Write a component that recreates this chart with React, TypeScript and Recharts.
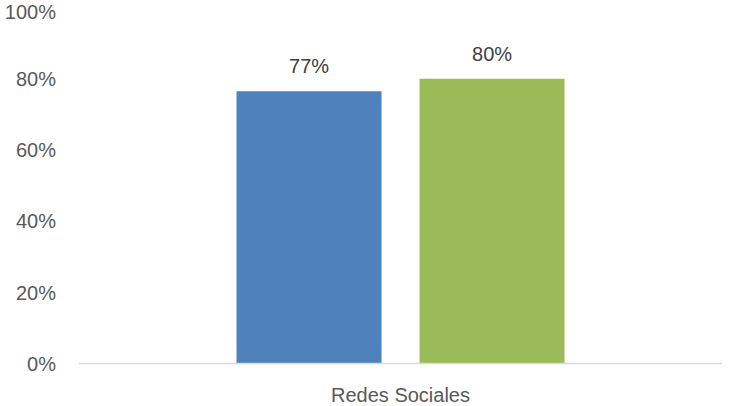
import React from "react";
import { BarChart, Bar, XAxis, YAxis, LabelList } from "recharts";

const categories = ["Redes Sociales"];
const seriesA = [76.6];
const seriesB = [80.1];
const labelsA = ["77%"];
const labelsB = ["80%"];
const yTicks = [0, 20, 40, 60, 80, 100];

const data = categories.map((c, i) => ({
  name: c,
  a: seriesA[i],
  b: seriesB[i],
  la: labelsA[i],
  lb: labelsB[i],
}));

const font = "'Liberation Sans', Arial, sans-serif";

export default function App() {
  return (
    <div style={{ position: "absolute", left: 0, top: 0, background: "#fff" }}>
      <BarChart
        width={730}
        height={406}
        data={data}
        margin={{ top: 8, right: 8, bottom: 0, left: 0 }}
        barCategoryGap="24.5%"
        barGap={38}
      >
        <XAxis
          dataKey="name"
          height={42.5}
          axisLine={{ stroke: "#d9d9d9", strokeWidth: 1.5 }}
          tickLine={false}
          tickSize={0}
          tickMargin={24}
          tick={{ fill: "#595959", fontSize: 20, fontFamily: font }}
        />
        <YAxis
          width={79}
          domain={[0, 100]}
          ticks={yTicks}
          axisLine={false}
          tickLine={false}
          tickSize={0}
          tickMargin={23}
          tickFormatter={(v: number) => `${v}%`}
          tick={{ fill: "#595959", fontSize: 20, fontFamily: font }}
        />
        <Bar dataKey="a" fill="#4F81BD" isAnimationActive={false}>
          <LabelList dataKey="la" position="top" offset={18} fill="#404040" fontSize={20} fontFamily={font} />
        </Bar>
        <Bar dataKey="b" fill="#9BBB59" isAnimationActive={false}>
          <LabelList dataKey="lb" position="top" offset={18} fill="#404040" fontSize={20} fontFamily={font} />
        </Bar>
      </BarChart>
    </div>
  );
}
